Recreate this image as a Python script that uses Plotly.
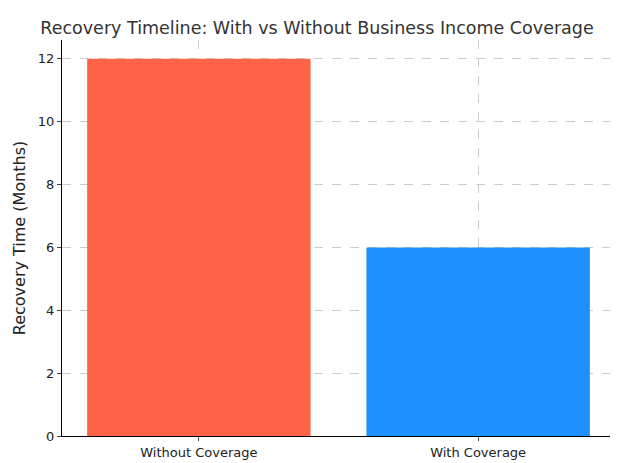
import plotly.graph_objects as go

categories = ["Without Coverage", "With Coverage"]
recovery_months = [12, 6]
bar_colors = ["#FF6347", "#1E90FF"]

fig = go.Figure(go.Bar(
    x=categories,
    y=recovery_months,
    width=0.8,
    marker=dict(color=bar_colors, line=dict(width=0)),
))

grid = dict(showgrid=True, gridcolor="#cccccc", griddash="dash", gridwidth=1,
            layer="above traces")
fig.update_layout(
    width=618, height=463,
    margin=dict(l=49, r=11, t=32, b=28),
    plot_bgcolor="white", paper_bgcolor="white",
    font=dict(family="DejaVu Sans", size=13, color="#222222"),
    title=dict(text="Recovery Timeline: With vs Without Business Income Coverage",
               x=0.5, xanchor="center", y=0.958, yanchor="middle",
               font=dict(size=17.5, color="#333333")),
    showlegend=False,
    bargap=0.2,
)
fig.update_xaxes(range=[-0.49, 1.49], showline=True, linecolor="black", mirror=False,
                 ticks="outside", ticklen=4, **grid)
fig.update_yaxes(range=[0, 12.6], dtick=2, showline=True, linecolor="black",
                 ticks="outside", ticklen=4, zeroline=False,
                 title=dict(text="Recovery Time (Months)", standoff=8), **grid)

fig.write_html("out.html")
